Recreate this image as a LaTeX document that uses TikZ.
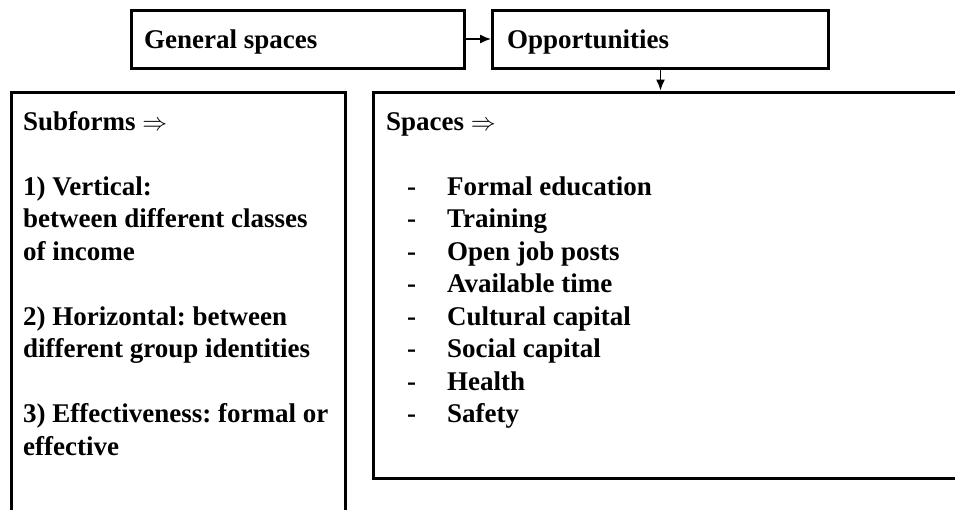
\documentclass[tikz,border=0pt]{standalone}
\usepackage{fontspec}
\setmainfont{Liberation Serif}
\usetikzlibrary{arrows.meta}
\frenchspacing
\tikzset{
  box/.style={draw=black, line width=3pt, rectangle, inner sep=0pt, fill=white},
  conn/.style={draw=black, line width=1.3pt, -{Latex[length=11pt,width=9pt]}},
  txt/.style={anchor=base west, inner sep=0pt, font=\fontsize{27}{32.5}\selectfont\bfseries}
}
\begin{document}
\begin{tikzpicture}[x=1pt,y=-1pt]
\useasboundingbox (0,0) rectangle (955,509);
\clip (0,0) rectangle (955,509);
\fill[white] (0,0) rectangle (955,509);
% boxes
\node[box, minimum width=333pt, minimum height=58pt] (gen) at (297.5,39) {};
\node[box, minimum width=336pt, minimum height=58pt] (opp) at (660.5,39) {};
\node[box, minimum width=334pt, minimum height=460pt] (sub) at (178,322) {};
\node[box, minimum width=620pt, minimum height=386pt] (spc) at (683,285) {};
% connectors
\draw[conn] (gen.east) -- (opp.west);
\draw[conn] (opp.south) -- (opp.south |- spc.north);
% top texts
\node[txt] (tgen) at (144,48) {General spaces};
\node[txt] (topp) at (507,48) {Opportunities};
% left texts
\node[txt] (s0) at (23,130) {Subforms $\Rightarrow$};
\node[txt] (s1) at (23,195) {1) Vertical:};
\node[txt] (s2) at (23,227.5) {between different classes};
\node[txt] (s3) at (23,260) {of income};
\node[txt] (s4) at (23,325) {2) Horizontal: between};
\node[txt] (s5) at (23,357.5) {different group identities};
\node[txt] (s6) at (23,422.5) {3) Effectiveness: formal or};
\node[txt] (s7) at (23,455) {effective};
% right texts
\node[txt] (p0) at (386,130) {Spaces $\Rightarrow$};
\foreach \t [count=\i from 0] in {Formal education, Training, Open job posts, Available time, Cultural capital, Social capital, Health, Safety}{
  \node[txt] (d\i) at (407,195+32.5*\i) {-};
  \node[txt] (i\i) at (447,195+32.5*\i) {\t};
}
\end{tikzpicture}
\end{document}
